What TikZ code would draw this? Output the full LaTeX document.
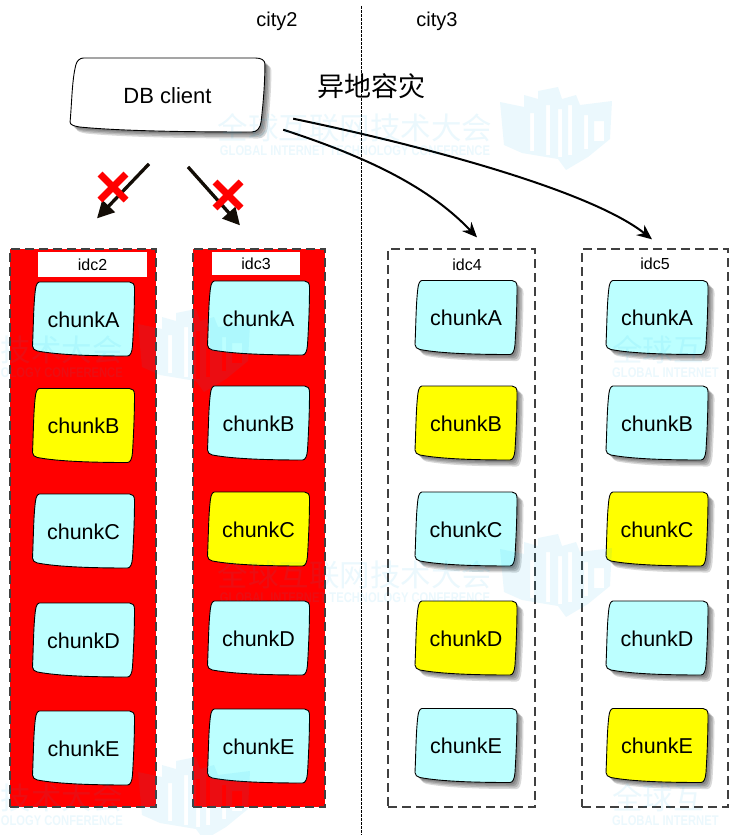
\documentclass[tikz,border=0pt]{standalone}
\usepackage{fontspec}
\usepackage{graphicx}
\setmainfont{Liberation Sans}
\newfontfamily\cjkfont{Noto Sans CJK SC}
\usetikzlibrary{arrows.meta}
\definecolor{chunkblue}{RGB}{188,255,255}
\definecolor{chunkyellow}{RGB}{255,255,0}
\definecolor{markblue}{RGB}{0,170,230}
\tikzset{
  boxline/.style={draw=black, line width=0.9pt},
  chunktext/.style={font=\fontsize{21.5}{24}\selectfont, minimum width=102pt, minimum height=74pt, inner sep=0pt, yshift=-0.7pt},
  idcbox/.style={draw=black!75, line width=1.3pt, dash pattern=on 9pt off 5pt, inner sep=0pt},
  idcdown/.style={idcbox, fill=red},
  idctext/.style={font=\fontsize{16}{18}\selectfont, inner sep=0pt},
  citytext/.style={font=\fontsize{20}{22}\selectfont, inner sep=0pt},
  failarrow/.style={draw=black!90!brown, line width=3.3pt, -{Triangle[length=17pt,width=17pt]}},
  farrow/.style={draw=black, line width=2pt, -{Stealth[length=15pt,width=13pt,inset=5pt]}},
  crossline/.style={draw=red, line width=7pt},
  shadowfill/.style={black, opacity=0.15},
  marktext/.style={text=markblue, text opacity=0.08, font=\cjkfont\fontsize{30.5}{32}\selectfont, inner sep=0pt},
  marksub/.style={text=markblue, text opacity=0.08, font=\bfseries\fontsize{14}{16}\selectfont, inner sep=0pt},
  markfill/.style={fill=markblue, fill opacity=0.08, draw=none, even odd rule},
}
% hand drawn outline around (0,0), 102 wide and 74 high
\newcommand{\boxoutline}{(-44,-37) -- (46,-37) .. controls (49,-37) and (51,-35) .. (51,-31)
  .. controls (51,-10) and (50,10) .. (49,27) .. controls (48.5,33) and (47,37) .. (44,37)
  .. controls (10,37) and (-25,36) .. (-46,32) .. controls (-49,31) and (-51,30) .. (-51,27)
  .. controls (-50,5) and (-50,-15) .. (-48,-30) .. controls (-47.5,-34) and (-46,-37) .. (-44,-37) -- cycle}
% name, x, y, colour, text
\newcommand{\chunkbox}[5]{
  \draw[boxline, fill=#4, shift={(#2,#3)}] \boxoutline;
  \node[chunktext] (#1) at (#2,#3) {#5};
}
\newcommand{\chunkshadow}[5]{
  \fill[shadowfill, shift={(#2+2,#3+2)}] \boxoutline;
  \fill[shadowfill, shift={(#2+3.5,#3+3.5)}] \boxoutline;
  \fill[shadowfill, shift={(#2+5,#3+5)}] \boxoutline;
  \fill[shadowfill, shift={(#2+6.5,#3+6.5)}] \boxoutline;
  \chunkbox{#1}{#2}{#3}{#4}{#5}
}
\newcommand{\redcross}[2]{
  \draw[crossline] (#1-13,#2-13) -- (#1+13,#2+13);
  \draw[crossline] (#1-13,#2+13) -- (#1+13,#2-13);
}
\newcommand{\marklogo}[2]{
  \fill[markfill, shift={(#1,#2)}]
    (0,15) -- (24,20) -- (24,8) -- (38,12) -- (38,4) -- (58,0) -- (62,12) -- (76,8) -- (80,18) -- (112,14)
    -- (110,52) -- (88,70) -- (66,83) -- (58,72) -- (22,66) -- (4,58) -- cycle
    (30,26) rectangle (34,64) (46,18) rectangle (50,68) (58,22) rectangle (62,70)
    (68,18) rectangle (72,68) (84,28) rectangle (88,62) (94,34) rectangle (104,54);
}
\begin{document}
\begin{tikzpicture}[x=1pt,y=-1pt]
  \useasboundingbox[fill=white] (0,0) rectangle (729,835);
  % Cities
  \draw[black, line width=1pt, dash pattern=on 2.5pt off 1.5pt] (361,6) -- (361,835);
  \node[citytext] (city2) at (277,21) {city2};
  \node[citytext] (city3) at (437,21) {city3};
  \node[font=\cjkfont\fontsize{27}{30}\selectfont, inner sep=0pt] (remote) at (371,86) {异地容灾};
  % Client
  \fill[shadowfill, shift={(169.5,97)}, xscale=1.91] \boxoutline;
  \fill[shadowfill, shift={(171,98.5)}, xscale=1.91] \boxoutline;
  \fill[shadowfill, shift={(172.5,100)}, xscale=1.91] \boxoutline;
  \fill[shadowfill, shift={(174,101.5)}, xscale=1.91] \boxoutline;
  \draw[boxline, fill=white, shift={(167.5,95)}, xscale=1.91] \boxoutline;
  \node[chunktext, minimum width=195pt, font=\fontsize{22}{24}\selectfont] (dbclient) at (167.5,95) {DB client};
  % IDC boxes
  \node[idcdown, minimum width=146pt, minimum height=558pt] (idc2box) at (83,528) {};
  \node[idcdown, minimum width=132pt, minimum height=558pt] (idc3box) at (259,528) {};
  \node[idcbox, minimum width=147pt, minimum height=558pt] (idc4box) at (461.5,528) {};
  \node[idcbox, minimum width=146pt, minimum height=558pt] (idc5box) at (655,528) {};
  \node[idctext, fill=white, minimum width=109pt, minimum height=25pt] (idc2) at (92.5,264.5) {idc2};
  \node[idctext, fill=white, minimum width=88pt, minimum height=23pt] (idc3) at (256,263.5) {idc3};
  \node[idctext] (idc4) at (467,265) {idc4};
  \node[idctext] (idc5) at (655,264) {idc5};
  % Chunks in idc2
  \chunkbox{idc2A}{83.5}{319}{chunkblue}{chunkA}
  \chunkbox{idc2B}{83.5}{425.5}{chunkyellow}{chunkB}
  \chunkbox{idc2C}{83.5}{531}{chunkblue}{chunkC}
  \chunkbox{idc2D}{83.5}{640}{chunkblue}{chunkD}
  \chunkbox{idc2E}{83.5}{748}{chunkblue}{chunkE}
  % Chunks in idc3
  \chunkbox{idc3A}{258.5}{318}{chunkblue}{chunkA}
  \chunkbox{idc3B}{258.5}{423}{chunkblue}{chunkB}
  \chunkbox{idc3C}{258.5}{529}{chunkyellow}{chunkC}
  \chunkbox{idc3D}{258.5}{638}{chunkblue}{chunkD}
  \chunkbox{idc3E}{258.5}{746}{chunkblue}{chunkE}
  % Chunks in idc4
  \chunkshadow{idc4A}{466}{317.5}{chunkblue}{chunkA}
  \chunkshadow{idc4B}{466}{423}{chunkyellow}{chunkB}
  \chunkshadow{idc4C}{466}{529}{chunkblue}{chunkC}
  \chunkshadow{idc4D}{466}{638}{chunkyellow}{chunkD}
  \chunkshadow{idc4E}{466}{745.5}{chunkblue}{chunkE}
  % Chunks in idc5
  \chunkshadow{idc5A}{657}{317.5}{chunkblue}{chunkA}
  \chunkshadow{idc5B}{657}{423}{chunkblue}{chunkB}
  \chunkshadow{idc5C}{657}{529}{chunkyellow}{chunkC}
  \chunkshadow{idc5D}{657}{638}{chunkblue}{chunkD}
  \chunkshadow{idc5E}{657}{745.5}{chunkyellow}{chunkE}
  % Arrows
  \draw[failarrow] ([xshift=-18.5pt,yshift=-31pt]dbclient.south) -- ([xshift=14pt,yshift=30pt]idc2box.north);
  \draw[failarrow] ([xshift=20.5pt,yshift=-34pt]dbclient.south) -- ([xshift=-19pt,yshift=23pt]idc3box.north);
  \draw[farrow] ([xshift=18pt,yshift=-34pt]dbclient.east) .. controls (370,158) and (430,188) .. ([xshift=15.5pt,yshift=11pt]idc4box.north);
  \draw[farrow] ([xshift=28pt,yshift=-23pt]dbclient.east) .. controls (420,145) and (590,190) .. ([xshift=-3pt,yshift=9pt]idc5box.north);
  \redcross{113}{187}
  \redcross{228}{195}
  % Watermark
  \foreach \dy in {0, 447} {
    \node[marktext] at (355,128+\dy) {全球互联网技术大会};
    \node[marksub] at (355,151+\dy) {\scalebox{0.8}[1]{GLOBAL INTERNET TECHNOLOGY CONFERENCE}};
    \marklogo{500}{87+\dy}
  }
  \foreach \dy in {222, 670} {
    \node[marktext, anchor=east] at (123,128+\dy) {技术大会};
    \node[marksub, anchor=east] at (123,151+\dy) {\scalebox{0.8}[1]{OLOGY CONFERENCE}};
    \node[marktext, anchor=west] at (612,128+\dy) {全球互};
    \node[marksub, anchor=west] at (612,151+\dy) {\scalebox{0.8}[1]{GLOBAL INTERNET}};
    \marklogo{138}{87+\dy}
  }
\end{tikzpicture}
\end{document}
